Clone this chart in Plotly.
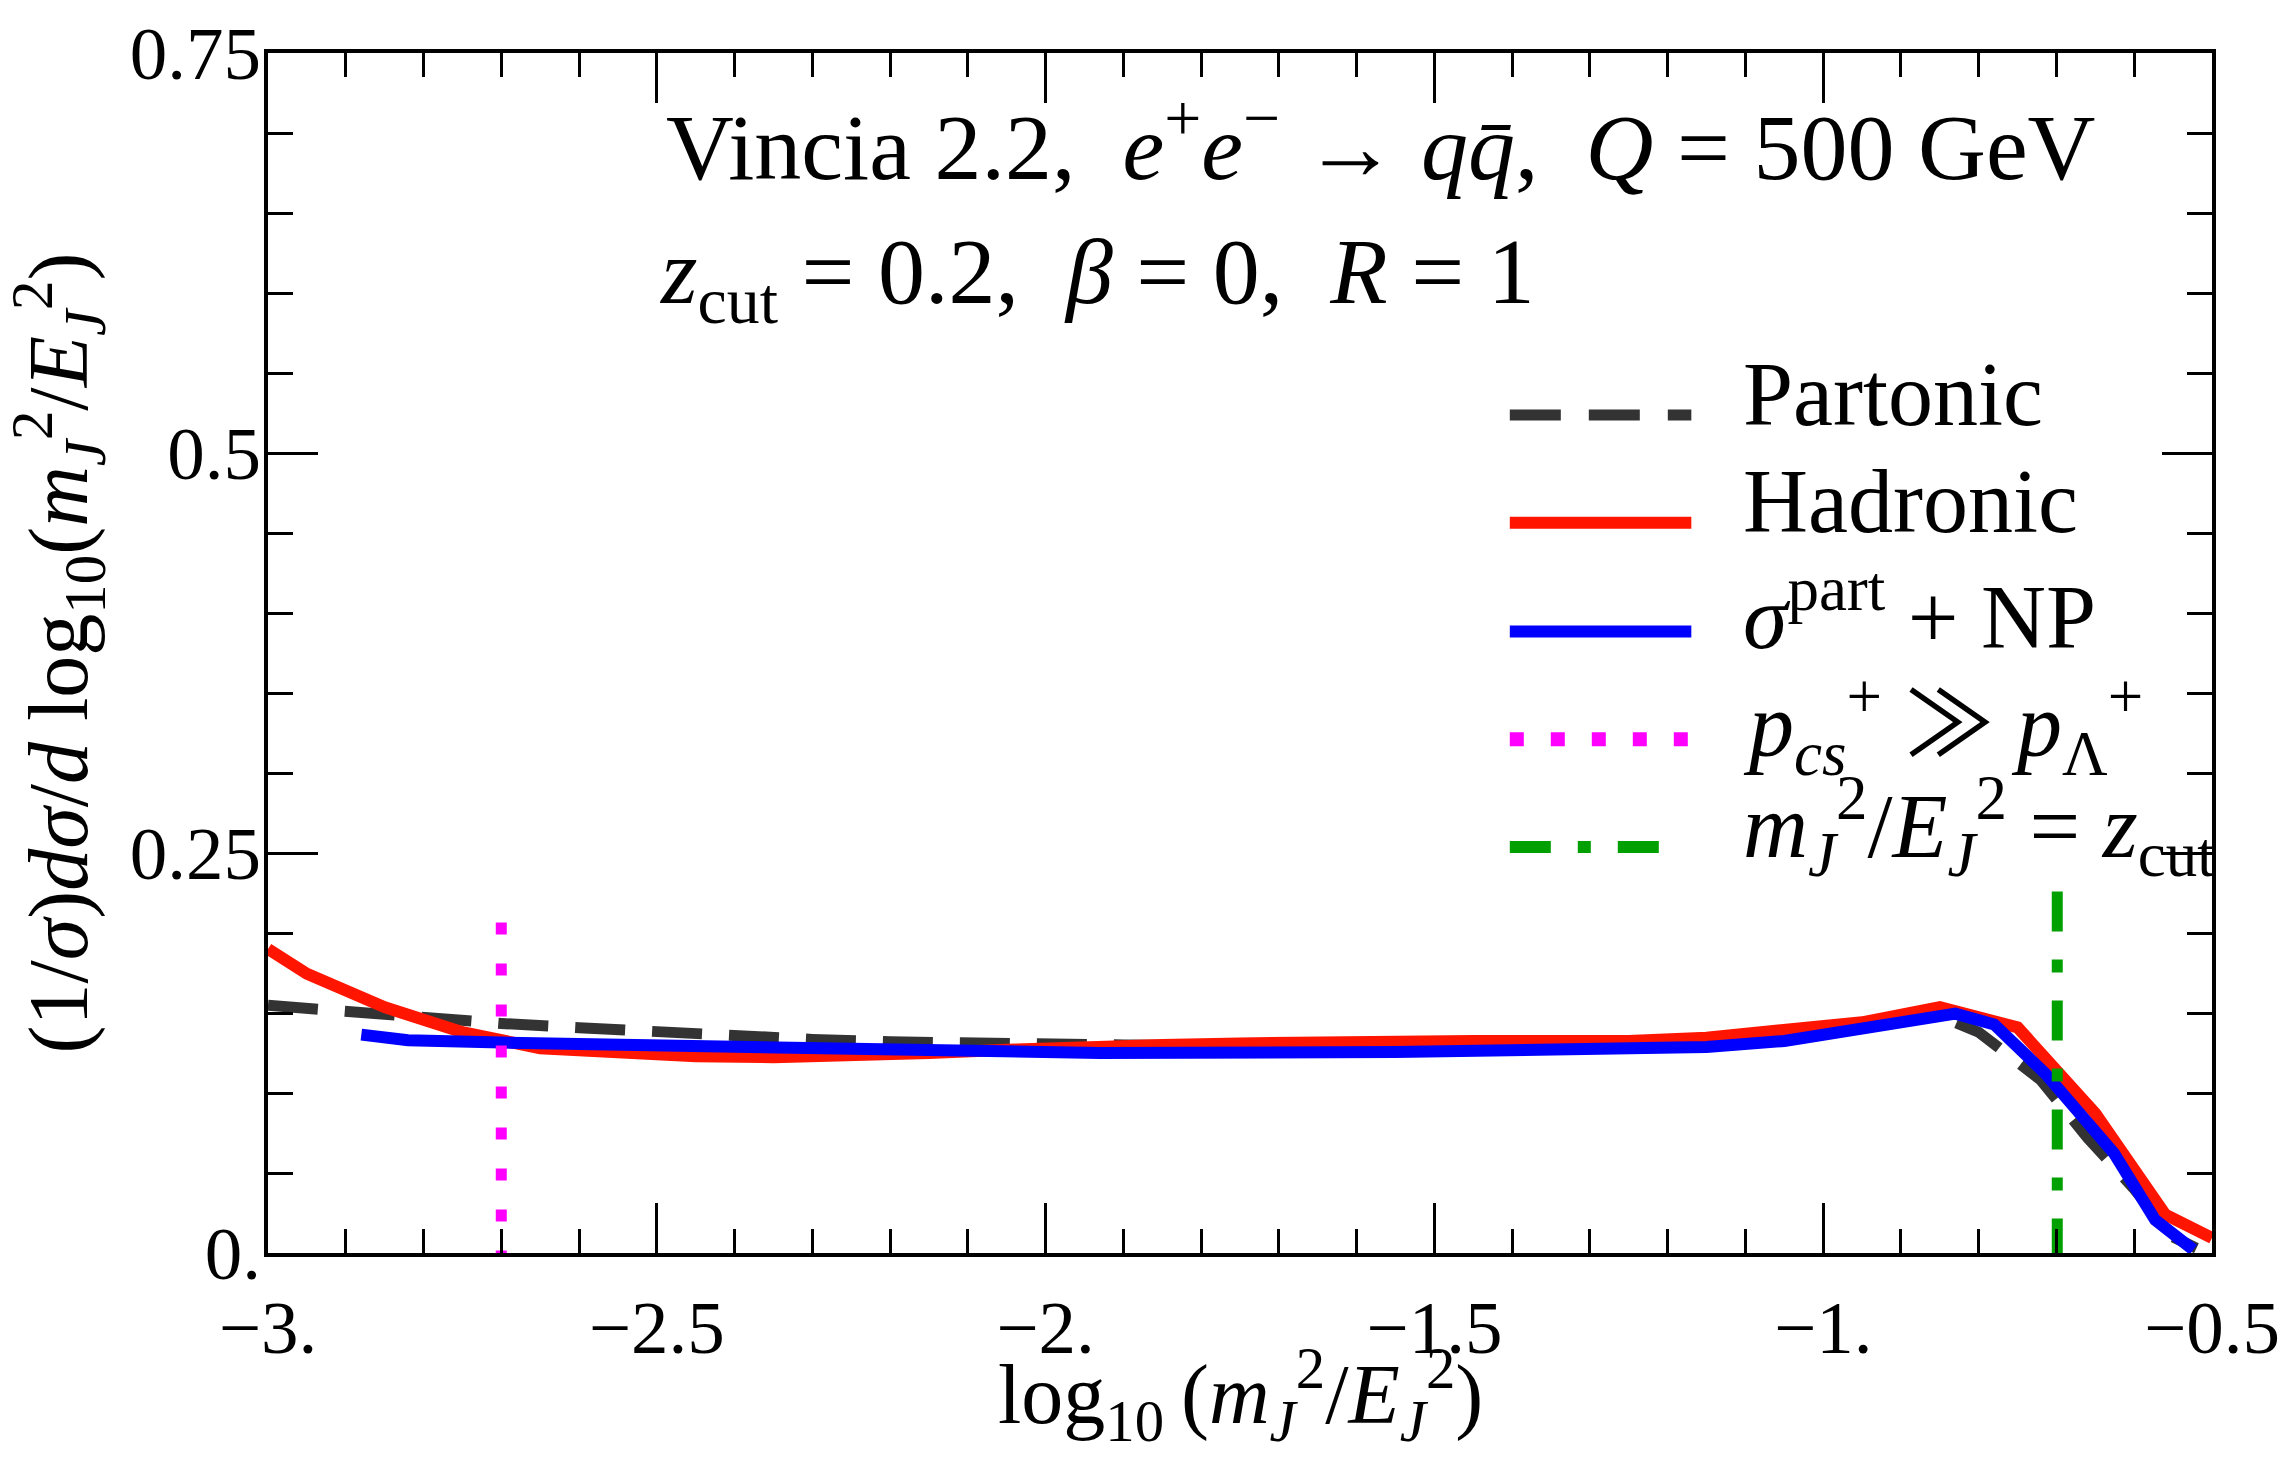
import plotly.graph_objects as go

# ---------------- data ----------------
x_partonic = [-3.00, -2.90, -2.80, -2.70, -2.60, -2.50, -2.40, -2.30, -2.20, -2.10, -2.00,
              -1.90, -1.50, -1.20, -1.05, -0.95, -0.86, -0.80, -0.72, -0.66, -0.60, -0.55, -0.52]
y_partonic = [0.1548, 0.1508, 0.1475, 0.1435, 0.1408, 0.1380, 0.1352, 0.1335, 0.1320, 0.1312, 0.1305,
              0.1300, 0.1290, 0.1295, 0.1340, 0.1410, 0.1500, 0.1380, 0.1080, 0.0720, 0.0400, 0.0100, 0.0030]

x_hadronic = [-3.00, -2.95, -2.85, -2.75, -2.65, -2.55, -2.45, -2.35, -2.25, -2.15, -2.05, -1.95,
              -1.85, -1.75, -1.65, -1.55, -1.45, -1.35, -1.25, -1.15, -1.05, -0.95, -0.85, -0.75,
              -0.65, -0.56, -0.50]
y_hadronic = [0.190, 0.1745, 0.1536, 0.138, 0.128, 0.1247, 0.123, 0.1224, 0.123, 0.125, 0.127, 0.129,
              0.130, 0.131, 0.132, 0.1325, 0.1325, 0.1325, 0.1325, 0.1346, 0.1387, 0.1442, 0.1536, 0.141,
              0.0872, 0.0240, 0.0094]

x_np = [-2.88, -2.82, -2.70, -2.50, -2.20, -1.93, -1.55, -1.25, -1.15, -1.05, -0.96, -0.83,
        -0.78, -0.714, -0.626, -0.573, -0.524]
y_np = [0.1365, 0.133, 0.1315, 0.1297, 0.126, 0.125, 0.1256, 0.127, 0.1287, 0.1325, 0.139, 0.1496,
        0.1428, 0.112, 0.0623, 0.0206, 0.002]

x_pcs = [-2.7, -2.7]
y_pcs = [0.2065, 0.0]
x_zcut = [-0.699, -0.699]
y_zcut = [0.226, 0.0]

x_tickvals = [-3, -2.5, -2, -1.5, -1, -0.5]
x_ticktext = ["\u22123.", "\u22122.5", "\u22122.", "\u22121.5", "\u22121.", "\u22120.5"]
y_tickvals = [0, 0.25, 0.5, 0.75]
y_ticktext = ["0.", "0.25", "0.5", "0.75"]

legend_labels = [
    "Partonic",
    "Hadronic",
    "<i>\u03c3</i><sup>part</sup> + NP",
    ("<i>p</i><sub><i>cs</i></sub><sup>+</sup> "
     "<span style=\"font-family:'Noto Sans CJK JP'\">\u226b</span> <i>p</i><sub>\u039b</sub><sup>+</sup>"),
    "<i>m</i><sub><i>J</i></sub><sup>2</sup>/<i>E</i><sub><i>J</i></sub><sup>2</sup> = <i>z</i><sub>cut</sub>",
]
title_line1 = ("Vincia 2.2,\u00a0 <i>e</i><sup>+</sup><i>e</i><sup>\u2212</sup> \u2192 "
               "<i>q</i><i>q\u0304</i>,\u00a0 <i>Q</i> = 500 GeV")
title_line2 = "<i>z</i><sub>cut</sub> = 0.2,\u00a0 <i>\u03b2</i> = 0,\u00a0 <i>R</i> = 1"
x_title = "log<sub>10</sub>\u2009(<i>m</i><sub><i>J</i></sub><sup>2</sup>/<i>E</i><sub><i>J</i></sub><sup>2</sup>)"
y_title = ("(1/<i>\u03c3</i>)<i>d\u03c3</i>/<i>d</i> log<sub>10</sub>(<i>m</i><sub><i>J</i></sub><sup>2</sup>"
           "/<i>E</i><sub><i>J</i></sub><sup>2</sup>)")

# ---------------- styles / layout ----------------
W, H = 2292, 1482
ML, MR, MT, MB = 268, 75, 50, 229
FONT = "Liberation Serif, DejaVu Serif, Times New Roman, serif"

C_PART = "#333333"
C_HAD = "#ff1500"
C_NP = "#0000ff"
C_PCS = "#ff00ff"
C_ZCUT = "#00a000"


def px_x(px):
    return (px - ML) / (W - ML - MR)


def px_y(py):
    return (H - MB - py) / (H - MT - MB)


fig = go.Figure()
fig.add_trace(go.Scatter(x=x_partonic, y=y_partonic, mode="lines", name="Partonic",
                         line=dict(color=C_PART, width=11, dash="50px,27px"), showlegend=False))
fig.add_trace(go.Scatter(x=x_hadronic, y=y_hadronic, mode="lines", name="Hadronic",
                         line=dict(color=C_HAD, width=12), showlegend=False))
fig.add_trace(go.Scatter(x=x_np, y=y_np, mode="lines", name="sigma part + NP",
                         line=dict(color=C_NP, width=12), showlegend=False))
fig.add_trace(go.Scatter(x=x_pcs, y=y_pcs, mode="lines", name="pcs >> pLambda",
                         line=dict(color=C_PCS, width=11, dash="12px,29px"), showlegend=False))
fig.add_trace(go.Scatter(x=x_zcut, y=y_zcut, mode="lines", name="m2/E2 = zcut",
                         line=dict(color=C_ZCUT, width=11, dash="40px,28px,13px,28px"), showlegend=False))

# legend drawn by hand (long line samples as in the reference)
leg_styles = [
    (C_PART, 11, "51px,28px", 1695, 413),
    (C_HAD, 12, "solid", 1695, 521),
    (C_NP, 12, "solid", 1695, 630),
    (C_PCS, 14, "14px,27px", 1695, 738),
    (C_ZCUT, 12, "41px,27px,13px,27px", 1663, 846),
]
leg_text_offset = [29, 29, 29, 27, 29]
shapes = []
annotations = []
for (col, w, dash, xend, ypx), lab, off in zip(leg_styles, legend_labels, leg_text_offset):
    shapes.append(dict(type="line", xref="paper", yref="paper",
                       x0=px_x(1513), x1=px_x(xend), y0=px_y(ypx), y1=px_y(ypx),
                       line=dict(color=col, width=w, dash=dash)))
    annotations.append(dict(text=lab, xref="paper", yref="paper", x=px_x(1745), y=px_y(ypx + 8 - off),
                            xanchor="left", yanchor="middle", showarrow=False,
                            font=dict(family=FONT, size=90, color="black")))

annotations.append(dict(text=title_line1, xref="paper", yref="paper", x=px_x(665), y=px_y(181 - 44),
                        xanchor="left", yanchor="middle", showarrow=False,
                        font=dict(family=FONT, size=94, color="black")))
annotations.append(dict(text=title_line2, xref="paper", yref="paper", x=px_x(658), y=px_y(303 - 27),
                        xanchor="left", yanchor="middle", showarrow=False,
                        font=dict(family=FONT, size=94, color="black")))
# x-axis title (placed as text below the axis, centred on the plot)
annotations.append(dict(text=x_title, xref="paper", yref="paper", x=0.5, y=px_y(1450 - 55),
                        xanchor="center", yanchor="middle", showarrow=False,
                        font=dict(family=FONT, size=84, color="black")))

axis_common = dict(
    ticks="inside", tickwidth=3, tickcolor="black", ticklen=50,
    showline=True, linewidth=4, linecolor="black", mirror="allticks",
    showgrid=False, zeroline=False,
    tickfont=dict(family=FONT, size=75, color="black"),
)

fig.update_layout(
    width=W, height=H,
    margin=dict(l=ML, r=MR, t=MT, b=MB, pad=0),
    paper_bgcolor="white", plot_bgcolor="white",
    showlegend=False,
    shapes=shapes,
    annotations=annotations,
    xaxis=dict(range=[-3, -0.5], tickmode="array", tickvals=x_tickvals, ticktext=x_ticktext,
               minor=dict(ticks="inside", ticklen=24, tickwidth=3, tickcolor="black",
                          tickmode="linear", tick0=-3, dtick=0.1, showgrid=False),
               ticklabelstandoff=6,
               **axis_common),
    yaxis=dict(range=[0, 0.75], tickmode="array", tickvals=y_tickvals, ticktext=y_ticktext,
               minor=dict(ticks="inside", ticklen=25, tickwidth=3, tickcolor="black",
                          tickmode="linear", tick0=0, dtick=0.05, showgrid=False),
               ticklabelstandoff=-12,
               title=dict(text=y_title, font=dict(family=FONT, size=84, color="black"), standoff=40),
               **axis_common),
)

fig.write_html("out.html")
